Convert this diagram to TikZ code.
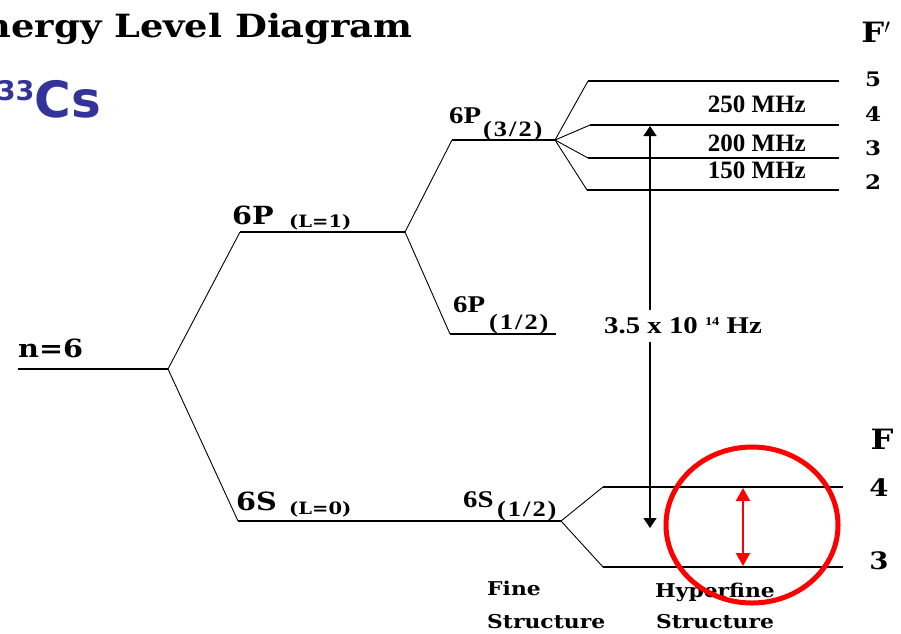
\documentclass[tikz,border=0pt]{standalone}
\usepackage{fontspec}
\setmainfont{DejaVu Serif}
\newfontfamily\slab{DejaVu Serif}[FakeStretch=1.15]
\newfontfamily\tms{Liberation Serif}
\newfontfamily\tmsw{Liberation Serif}[FakeStretch=1.2]
\newfontfamily\dsans{DejaVu Sans}
\usetikzlibrary{arrows.meta}
\definecolor{csblue}{RGB}{51,51,153}
\definecolor{hred}{RGB}{255,0,0}
\tikzset{
  level/.style={line width=1.8pt},
  branch/.style={line width=0.9pt},
  lbl/.style={inner sep=0pt},
  big/.style={lbl,font=\slab\bfseries\fontsize{25}{28}\selectfont},
  small/.style={lbl,font=\slab\bfseries\fontsize{17}{19}\selectfont},
  tm/.style={lbl,font=\tmsw\bfseries\fontsize{24}{26}\selectfont},
  mhz/.style={lbl,font=\tms\bfseries\fontsize{25}{27}\selectfont},
  tmsub/.style={lbl,font=\tmsw\bfseries\fontsize{22}{24}\selectfont},
  fnum/.style={lbl,font=\slab\bfseries\fontsize{20}{22}\selectfont},
  struct/.style={lbl,font=\slab\bfseries\fontsize{19}{22}\selectfont},
}
\newcommand\spfrac[2]{(\kern2pt#1\kern2pt/\kern2pt#2\kern2pt)}
\begin{document}
\begin{tikzpicture}[x=1pt,y=-1pt]
\useasboundingbox (0,0) rectangle (901,633);
\clip (0,0) rectangle (901,633);
\fill[white] (0,0) rectangle (901,633);

% title (clipped at the left edge as in the reference)
\node[lbl,anchor=base east,font=\slab\bfseries\fontsize{32}{40}\selectfont] (title) at (413,37) {Energy Level Diagram};
\node[lbl,anchor=base east,text=csblue,font=\dsans\bfseries\fontsize{50}{56}\selectfont] (cs) at (101,117) {\raisebox{17pt}{\fontsize{27}{30}\selectfont 133}Cs};

% junction coordinates
\coordinate (n0) at (18,369);
\coordinate (j1) at (168,369);
\coordinate (p0) at (240,232);
\coordinate (j2) at (405,232);
\coordinate (s0) at (238,521);
\coordinate (j5) at (561,521);
\coordinate (pa0) at (452,140);
\coordinate (j3) at (555,140);
\coordinate (pb0) at (450,334);
\coordinate (pb1) at (556,334);
\coordinate (h5a) at (588,81);  \coordinate (h5b) at (839,81);
\coordinate (h4a) at (590,125); \coordinate (h4b) at (839,125);
\coordinate (h3a) at (588,158); \coordinate (h3b) at (839,158);
\coordinate (h2a) at (587,190); \coordinate (h2b) at (839,190);
\coordinate (g4a) at (603,487); \coordinate (g4b) at (843,487);
\coordinate (g3a) at (603,567); \coordinate (g3b) at (843,567);

% levels
\draw[level] (n0) -- (j1);
\draw[level] (p0) -- (j2);
\draw[level] (s0) -- (j5);
\draw[level] (pa0) -- (j3);
\draw[level] (pb0) -- (pb1);
\draw[level] (h5a) -- (h5b);
\draw[level] (h4a) -- (h4b);
\draw[level] (h3a) -- (h3b);
\draw[level] (h2a) -- (h2b);
\draw[level] (g4a) -- (g4b);
\draw[level] (g3a) -- (g3b);

% branches
\draw[branch] (j1) -- (p0);
\draw[branch] (j1) -- (s0);
\draw[branch] (j2) -- (pa0);
\draw[branch] (j2) -- (pb0);
\draw[branch] (j3) -- (h5a);
\draw[branch] (j3) -- (h4a);
\draw[branch] (j3) -- (h3a);
\draw[branch] (j3) -- (h2a);
\draw[branch] (j5) -- (g4a);
\draw[branch] (j5) -- (g3a);

% level labels
\node[big,anchor=base west] (n6) at (18,357) {n=6};
\node[big,anchor=base west] (l6p) at (232,224) {6P};
\node[small,anchor=base west] (l6pL) at (289,227) {(L=1)};
\node[big,anchor=base west] (l6s) at (236,510) {6S};
\node[small,anchor=base west] (l6sL) at (289,514) {(L=0)};
\node[tm,anchor=base west] (p32) at (449,123) {6P};
\node[tmsub,anchor=base west] (p32s) at (483,136) {\spfrac{3}{2}};
\node[tm,anchor=base west] (p12) at (453,312) {6P};
\node[tmsub,anchor=base west] (p12s) at (489,329) {\spfrac{1}{2}};
\node[tm,anchor=base west] (s12) at (463,507) {6S};
\node[tmsub,anchor=base west] (s12s) at (497,516) {\spfrac{1}{2}};

% MHz labels
\node[mhz,anchor=base east] (m250) at (806,112) {250 MHz};
\node[mhz,anchor=base east] (m200) at (806,151) {200 MHz};
\node[mhz,anchor=base east] (m150) at (806,178) {150 MHz};

% F' numbers
\node[fnum,font=\slab\bfseries\fontsize{28}{30}\selectfont] (Fp) at (876,32) {F$^{\prime}$};
\node[fnum] (f5) at (873,79) {5};
\node[fnum] (f4) at (873,114) {4};
\node[fnum] (f3) at (873,148) {3};
\node[fnum] (f2) at (873,182) {2};
\node[fnum,font=\slab\bfseries\fontsize{28}{30}\selectfont] (F) at (882,439) {F};
\node[fnum,font=\slab\bfseries\fontsize{24}{26}\selectfont] (g4) at (879,488) {4};
\node[fnum,font=\slab\bfseries\fontsize{24}{26}\selectfont] (g3) at (879,561) {3};

% optical transition
\coordinate (at) at (650,126);
\coordinate (ab) at (650,528);
\node[lbl,font=\tmsw\bfseries\fontsize{24}{26}\selectfont,fill=white,inner ysep=8pt] (freq) at (683,326) {3.5 x 10 \raisebox{8pt}{\fontsize{12}{13}\selectfont 14} Hz};
\draw[line width=1.5pt,-{Triangle[width=13pt,length=10pt]}] (freq.north -| at) -- (at);
\draw[line width=1.5pt,-{Triangle[width=13pt,length=10pt]}] (freq.south -| ab) -- (ab);

% structure labels
\node[struct,anchor=base west] (fine1) at (487,595) {Fine};
\node[struct,anchor=base west] (fine2) at (487,628) {Structure};
\node[struct,anchor=base] (hyp1) at (715,597) {Hyperfine};
\node[struct,anchor=base] (hyp2) at (715,628) {Structure};

% red highlight
\coordinate (ra) at (743,488);
\coordinate (rb) at (743,566);
\draw[hred,line width=2pt,{Triangle[width=14pt,length=13pt]}-{Triangle[width=14pt,length=13pt]}] (ra) -- (rb);
\draw[hred,line width=5pt] (752,525) ellipse [x radius=86, y radius=78];
\end{tikzpicture}
\end{document}
